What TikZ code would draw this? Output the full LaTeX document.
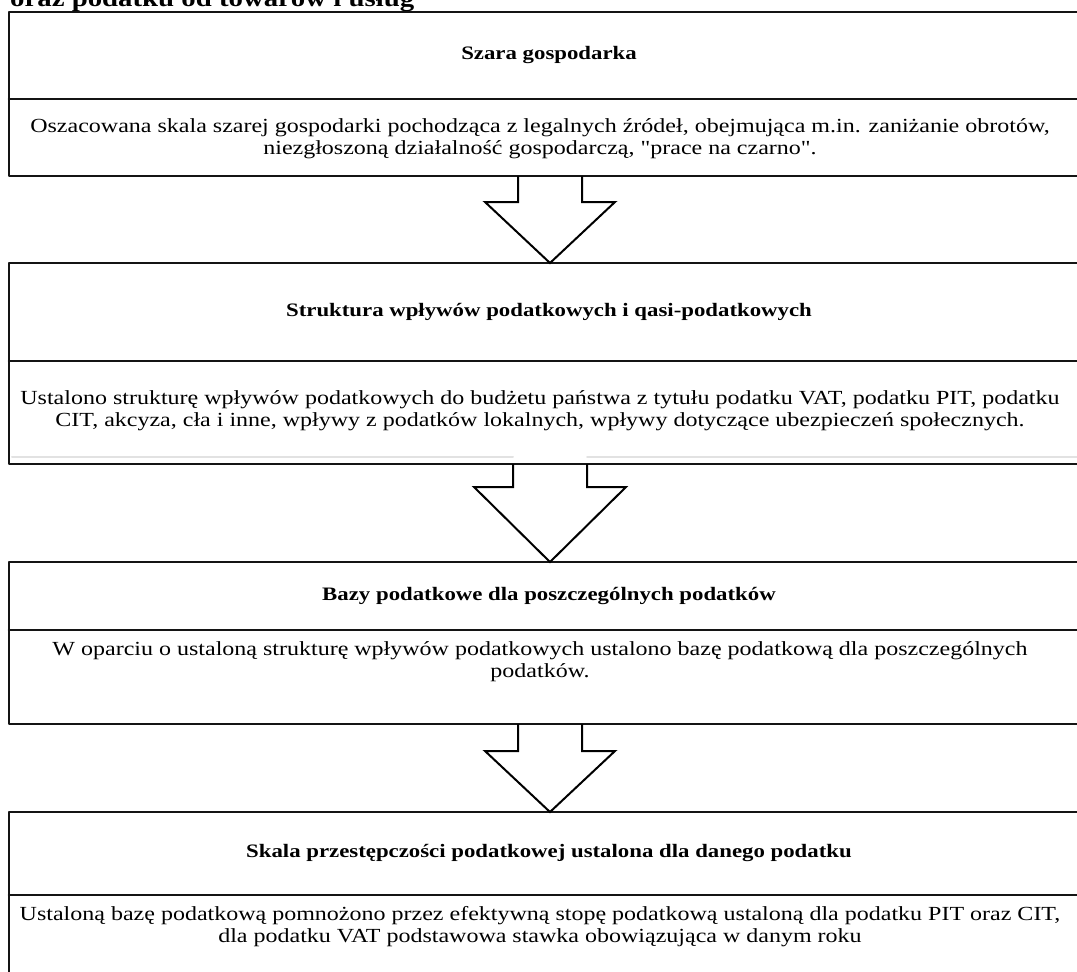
\documentclass[tikz,border=0pt]{standalone}
\usepackage{fontspec}
\setmainfont{Liberation Serif}[FakeStretch=1.2,Ligatures=TeXOff]
\usetikzlibrary{calc,positioning}
\definecolor{ramka}{RGB}{20,20,20}
\definecolor{cien}{RGB}{226,226,226}

\tikzset{
 ramka/.style={draw=ramka,line width=2.6pt},
 naglowek/.style={font=\fontsize{19}{21}\selectfont\bfseries,align=center,inner sep=0pt},
 opis/.style={font=\fontsize{20}{22}\selectfont,align=center,inner sep=0pt},
 strzalka/.style={draw=black,line width=2pt,line join=miter,line cap=butt},
}

\begin{document}
\begin{tikzpicture}[x=1pt,y=-1pt,line cap=round,line join=round]
 \useasboundingbox (0,0) rectangle (1077,972);
 \clip (0,0) rectangle (1077,972);
 \node[anchor=base west,inner sep=0pt,font=\fontsize{24}{28}\selectfont\bfseries] (tytul) at (10,6)
  {oraz podatku od towarów i usług};
 \foreach \t/\d/\b [count=\i] in {12/99/176,263/361/464,562/630/724,812/895/1000}{
  \draw[ramka] (9,\t) rectangle (1095,\b);
  \draw[ramka] (9,\d) -- (1095,\d);
  \coordinate (g\i) at (550,\t);
  \coordinate (d\i) at (550,\b);
 }
 \draw[cien,line width=2pt] (12,457) -- (513,457) (587,457) -- (1077,457);
 \foreach \a/\b/\s/\h/\k in {d1/g2/32/65/26,d2/g3/37/76/23,d3/g4/32/65/27}{
  \draw[strzalka] ($(\a)+(-\s,0)$) -- ($(\a)+(-\s,\k)$) -- ($(\a)+(-\h,\k)$) -- (\b)
   -- ($(\a)+(\h,\k)$) -- ($(\a)+(\s,\k)$) -- ($(\a)+(\s,0)$);
 }
 \node[naglowek] (n1) at (549,55) {Szara gospodarka};
 \node[opis] (o1) at (540,139)
  {Oszacowana skala szarej gospodarki pochodząca z legalnych źródeł, obejmująca m.in. zaniżanie obrotów,\\
   niezgłoszoną działalność gospodarczą, "prace na czarno".};
 \node[naglowek] (n2) at (549,312) {Struktura wpływów podatkowych i qasi-podatkowych};
 \node[opis] (o2) at (540,411)
  {Ustalono strukturę wpływów podatkowych do budżetu państwa z tytułu podatku VAT, podatku PIT, podatku\\
   CIT, akcyza, cła i inne, wpływy z podatków lokalnych, wpływy dotyczące ubezpieczeń społecznych.};
 \node[naglowek] (n3) at (549,596) {Bazy podatkowe dla poszczególnych podatków};
 \node[opis] (o3) at (540,662)
  {W oparciu o ustaloną strukturę wpływów podatkowych ustalono bazę podatkową dla poszczególnych\\
   podatków.};
 \node[naglowek] (n4) at (549,853) {Skala przestępczości podatkowej ustalona dla danego podatku};
 \node[opis] (o4) at (540,927)
  {Ustaloną bazę podatkową pomnożono przez efektywną stopę podatkową ustaloną dla podatku PIT oraz CIT,\\
   dla podatku VAT podstawowa stawka obowiązująca w danym roku};
\end{tikzpicture}
\end{document}
